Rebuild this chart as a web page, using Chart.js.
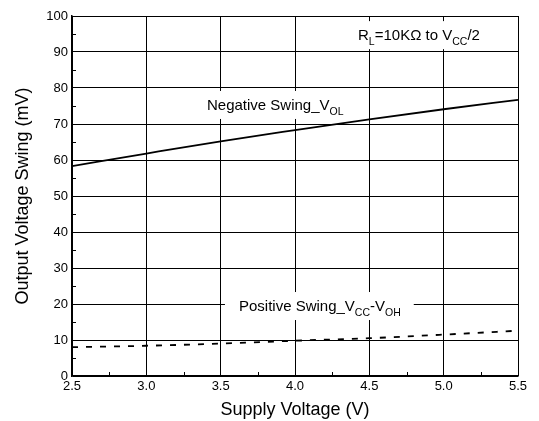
<!DOCTYPE html>
<html>
<head>
<meta charset="utf-8">
<script src="https://cdn.jsdelivr.net/npm/chart.js@4.4.1/dist/chart.umd.min.js"></script>
<style>
  html, body { margin: 0; padding: 0; background: #fff; }
  canvas { display: block; }
</style>
</head>
<body>
<canvas id="chart" width="539" height="421"></canvas>
<script>
// Supply voltage (V) and measured output swing (mV)
const supplyVoltage = [2.5, 3.0, 3.5, 4.0, 4.5, 5.0, 5.5];
const negativeSwing = [58.3, 61.8, 65.2, 68.3, 71.3, 74.1, 76.7];
const positiveSwing = [8.0, 8.4, 9.0, 9.8, 10.5, 11.5, 12.6];

// Axis tick labels
const xTickValues = [2.5, 3.0, 3.5, 4.0, 4.5, 5.0, 5.5];
const yTickValues = [0, 10, 20, 30, 40, 50, 60, 70, 80, 90, 100];

const FONT = '"Liberation Sans", Arial, Helvetica, sans-serif';
Chart.defaults.font.family = FONT;
Chart.defaults.color = '#000';

// Text annotations inside the plot: rich text with subscripts, anchored in data units
const annotations = [
  { x: 4.424, y: 93.3, parts: [
      { t: 'R' }, { t: 'L', sub: true }, { t: '=10K\u03A9 to V' }, { t: 'CC', sub: true }, { t: '/2' } ] },
  { x: 3.408, y: 73.9, parts: [
      { t: 'Negative Swing_V' }, { t: 'OL', sub: true } ] },
  { x: 3.623, y: 18.05, parts: [
      { t: 'Positive Swing_V' }, { t: 'CC', sub: true }, { t: '-V' }, { t: 'OH', sub: true } ] }
];

const MAIN_SIZE = 15;
const SUB_SIZE = 10.5;

function partFont(p) { return (p.sub ? SUB_SIZE : MAIN_SIZE) + 'px ' + FONT; }

function measureParts(ctx, parts) {
  let w = 0;
  for (const p of parts) { ctx.font = partFont(p); w += ctx.measureText(p.t).width; }
  return w;
}

const annotationPlugin = {
  id: 'richLabels',
  // white backing boxes sit over the grid but under the curves
  beforeDatasetsDraw(chart) {
    const ctx = chart.ctx, xs = chart.scales.x, ys = chart.scales.y;
    ctx.save();
    ctx.fillStyle = '#fff';
    for (const a of annotations) {
      const px = xs.getPixelForValue(a.x), py = ys.getPixelForValue(a.y);
      const w = measureParts(ctx, a.parts);
      ctx.fillRect(px - 14, py - 19, w + 27, 28);
    }
    ctx.restore();
    drawMinorTicks(chart);
  },
  afterDatasetsDraw(chart) {
    const ctx = chart.ctx, xs = chart.scales.x, ys = chart.scales.y;
    ctx.save();
    ctx.fillStyle = '#000';
    ctx.textBaseline = 'alphabetic';
    ctx.textAlign = 'left';
    for (const a of annotations) {
      let cx = xs.getPixelForValue(a.x);
      const py = ys.getPixelForValue(a.y);
      for (const p of a.parts) {
        ctx.font = partFont(p);
        ctx.fillText(p.t, cx, py + (p.sub ? 5 : 0));
        cx += ctx.measureText(p.t).width;
      }
    }
    ctx.restore();
  }
};

// Short inward ticks halfway between the major grid lines
function drawMinorTicks(chart) {
  const ctx = chart.ctx, xs = chart.scales.x, ys = chart.scales.y;
  const area = chart.chartArea;
  ctx.save();
  ctx.strokeStyle = '#000';
  ctx.lineWidth = 1;
  ctx.beginPath();
  for (let i = 0; i < xTickValues.length - 1; i++) {
    const v = (xTickValues[i] + xTickValues[i + 1]) / 2;
    const px = Math.round(xs.getPixelForValue(v)) + 0.5;
    ctx.moveTo(px, area.bottom);
    ctx.lineTo(px, area.bottom - 4);
  }
  for (let i = 0; i < yTickValues.length - 1; i++) {
    const v = (yTickValues[i] + yTickValues[i + 1]) / 2;
    const py = Math.round(ys.getPixelForValue(v)) + 0.5;
    ctx.moveTo(area.left, py);
    ctx.lineTo(area.left + 4, py);
  }
  ctx.stroke();
  ctx.restore();
}

new Chart(document.getElementById('chart'), {
  type: 'line',
  data: {
    datasets: [
      {
        label: 'Negative Swing_VOL',
        data: supplyVoltage.map((v, i) => ({ x: v, y: negativeSwing[i] })),
        borderColor: '#000',
        borderWidth: 1.8,
        pointRadius: 0,
        cubicInterpolationMode: 'monotone',
        fill: false
      },
      {
        label: 'Positive Swing_VCC-VOH',
        data: supplyVoltage.map((v, i) => ({ x: v, y: positiveSwing[i] })),
        borderColor: '#000',
        borderWidth: 1.8,
        borderDash: [6, 8],
        pointRadius: 0,
        cubicInterpolationMode: 'monotone',
        fill: false
      }
    ]
  },
  options: {
    responsive: false,
    animation: false,
    events: [],
    layout: { padding: { top: 16, right: 21, left: 0, bottom: 0 } },
    plugins: { legend: { display: false }, tooltip: { enabled: false } },
    scales: {
      x: {
        type: 'linear',
        min: 2.5,
        max: 5.5,
        afterBuildTicks: s => { s.ticks = xTickValues.map(v => ({ value: v })); },
        afterFit: s => { s.height = 45; },
        ticks: {
          font: { size: 13 },
          color: '#000',
          padding: 3,
          maxRotation: 0,
          callback: v => Number(v).toFixed(1)
        },
        grid: { color: '#000', lineWidth: 1, drawTicks: false },
        border: { color: '#000', width: 1.5 },
        title: {
          display: true,
          text: 'Supply Voltage (V)',
          font: { size: 18 },
          color: '#000',
          padding: { top: 0, bottom: 0 }
        }
      },
      y: {
        type: 'linear',
        min: 0,
        max: 100,
        afterBuildTicks: s => { s.ticks = yTickValues.map(v => ({ value: v })); },
        afterFit: s => { s.width = 72; },
        ticks: {
          font: { size: 13 },
          color: '#000',
          padding: 4
        },
        grid: { color: '#000', lineWidth: 1, drawTicks: false },
        border: { color: '#000', width: 1.5 },
        title: {
          display: true,
          text: 'Output Voltage Swing (mV)',
          font: { size: 18 },
          color: '#000',
          padding: { top: 12, bottom: 0 }
        }
      }
    }
  },
  plugins: [annotationPlugin]
});
</script>
</body>
</html>
